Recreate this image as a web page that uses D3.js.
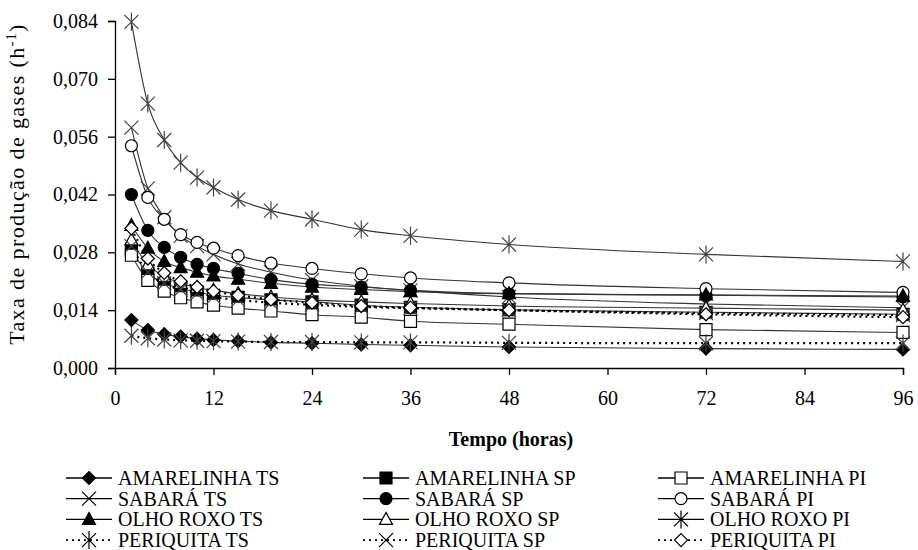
<!DOCTYPE html>
<html>
<head>
<meta charset="utf-8">
<script src="https://cdn.jsdelivr.net/npm/d3@7"></script>
<style>
  body { margin: 0; background: #fff; }
  svg text { font-family: "Times New Roman", "Liberation Serif", Times, serif; fill: #000; }
</style>
</head>
<body>
<div id="chart"></div>
<script>
// dados
const tempos = [2, 4, 6, 8, 10, 12, 15, 19, 24, 30, 36, 48, 72, 96];
const yTicks = [0, 0.014, 0.028, 0.042, 0.056, 0.070, 0.084];
const xTicks = [0, 12, 24, 36, 48, 60, 72, 84, 96];

const amarelinhaTS = [0.0116, 0.0092, 0.0082, 0.0076, 0.0071, 0.0068, 0.0065, 0.0062, 0.0060, 0.0057, 0.0055, 0.0051, 0.0047, 0.0045];
const amarelinhaSP = [0.0285, 0.0230, 0.0205, 0.0193, 0.0184, 0.0176, 0.0171, 0.0165, 0.0160, 0.0152, 0.0147, 0.0141, 0.0135, 0.0130];
const amarelinhaPI = [0.0273, 0.0212, 0.0186, 0.0170, 0.0160, 0.0152, 0.0145, 0.0138, 0.0129, 0.0123, 0.0113, 0.0106, 0.0093, 0.0086];
const sabaraTS = [0.0582, 0.0435, 0.0365, 0.0320, 0.0295, 0.0275, 0.0252, 0.0232, 0.0213, 0.0198, 0.0188, 0.0172, 0.0155, 0.0146];
const sabaraSP = [0.0420, 0.0333, 0.0292, 0.0268, 0.0251, 0.0241, 0.0229, 0.0214, 0.0203, 0.0196, 0.0188, 0.0180, 0.0176, 0.0172];
const sabaraPI = [0.0538, 0.0413, 0.0360, 0.0323, 0.0304, 0.0290, 0.0272, 0.0254, 0.0241, 0.0228, 0.0218, 0.0206, 0.0192, 0.0183];
const olhoRoxoTS = [0.0345, 0.0290, 0.0258, 0.0243, 0.0232, 0.0223, 0.0215, 0.0205, 0.0196, 0.0190, 0.0185, 0.0180, 0.0177, 0.0174];
const olhoRoxoSP = [0.0310, 0.0250, 0.0222, 0.0205, 0.0195, 0.0188, 0.0180, 0.0172, 0.0165, 0.0160, 0.0156, 0.0150, 0.0145, 0.0140];
const olhoRoxoPI = [0.0838, 0.0640, 0.0552, 0.0497, 0.0461, 0.0437, 0.0408, 0.0381, 0.0360, 0.0335, 0.0320, 0.0299, 0.0275, 0.0258];
const periquitaTS = [0.0078, 0.0072, 0.0069, 0.0067, 0.0066, 0.0065, 0.0064, 0.0063, 0.0063, 0.0062, 0.0062, 0.0061, 0.0060, 0.0060];
const periquitaSP = [0.0295, 0.0232, 0.0205, 0.0190, 0.0180, 0.0172, 0.0165, 0.0158, 0.0153, 0.0148, 0.0145, 0.0140, 0.0133, 0.0128];
const periquitaPI = [0.0338, 0.0265, 0.0230, 0.0210, 0.0196, 0.0186, 0.0176, 0.0166, 0.0158, 0.0150, 0.0146, 0.0140, 0.0130, 0.0123];

const series = [
  { name: "AMARELINHA TS", values: amarelinhaTS, marker: "diamond", fill: "#000", dotted: false },
  { name: "AMARELINHA SP", values: amarelinhaSP, marker: "square", fill: "#000", dotted: false },
  { name: "AMARELINHA PI", values: amarelinhaPI, marker: "square", fill: "#fff", dotted: false },
  { name: "SABARÁ TS", values: sabaraTS, marker: "x", fill: "none", dotted: false },
  { name: "SABARÁ SP", values: sabaraSP, marker: "circle", fill: "#000", dotted: false },
  { name: "SABARÁ PI", values: sabaraPI, marker: "circle", fill: "#fff", dotted: false },
  { name: "OLHO ROXO TS", values: olhoRoxoTS, marker: "triangle", fill: "#000", dotted: false },
  { name: "OLHO ROXO SP", values: olhoRoxoSP, marker: "triangle", fill: "#fff", dotted: false },
  { name: "OLHO ROXO PI", values: olhoRoxoPI, marker: "asterisk", fill: "none", dotted: false },
  { name: "PERIQUITA TS", values: periquitaTS, marker: "asterisk", fill: "none", dotted: true },
  { name: "PERIQUITA SP", values: periquitaSP, marker: "x", fill: "none", dotted: true },
  { name: "PERIQUITA PI", values: periquitaPI, marker: "diamond", fill: "#fff", dotted: true }
];

const W = 918, H = 550;
const fonte = '"Times New Roman", "Liberation Serif", Times, serif';

const svg = d3.select("#chart").append("svg")
  .attr("width", W).attr("height", H);

const x = d3.scaleLinear().domain([0, 96]).range([115, 903]);
const y = d3.scaleLinear().domain([0, 0.084]).range([368, 21]);

// caminhos dos marcadores
function markerPath(type) {
  switch (type) {
    case "diamond": return "M0,-6.5L6.5,0L0,6.5L-6.5,0Z";
    case "square": return "M-6,-6H6V6H-6Z";
    case "circle": return "M6,0A6,6 0 1,1 -6,0A6,6 0 1,1 6,0Z";
    case "triangle": return "M0,-7L6.5,5L-6.5,5Z";
    case "x": return "M-7,-7L7,7M-7,7L7,-7";
    case "asterisk": return "M-7,-7L7,7M-7,7L7,-7M0,-9V9";
  }
}

// eixos
const yAxis = svg.append("g")
  .attr("transform", "translate(115,0)")
  .call(d3.axisLeft(y).tickValues(yTicks).tickSize(7).tickPadding(10)
    .tickFormat(d => d3.format(".3f")(d).replace(".", ",")));
const xAxis = svg.append("g")
  .attr("transform", "translate(0,368)")
  .call(d3.axisBottom(x).tickValues(xTicks).tickSize(7).tickPadding(16));

[yAxis, xAxis].forEach(a => {
  a.attr("font-family", fonte).attr("font-size", 20);
  a.select(".domain").attr("stroke", "#000").attr("stroke-width", 1.3);
  a.selectAll(".tick line").attr("stroke", "#000").attr("stroke-width", 1.3);
});

// títulos
svg.append("text")
  .attr("transform", "translate(24,184) rotate(-90)")
  .attr("text-anchor", "middle")
  .attr("font-family", fonte)
  .style("font-size", "22px")
  .style("letter-spacing", "1.4px")
  .html('Taxa de produção de gases (h<tspan dy="-8" style="font-size:14px">-1</tspan><tspan dy="8">)</tspan>');

svg.append("text")
  .attr("x", 511).attr("y", 446)
  .attr("text-anchor", "middle")
  .attr("font-family", fonte)
  .style("font-size", "20px")
  .style("font-weight", "bold")
  .text("Tempo (horas)");

// linhas e pontos
const line = d3.line()
  .x((d, i) => x(tempos[i]))
  .y(d => y(d))
  .curve(d3.curveMonotoneX);

series.forEach(s => {
  svg.append("path")
    .attr("d", line(s.values))
    .attr("fill", "none")
    .attr("stroke", s.dotted ? "#000" : "#333")
    .attr("stroke-width", s.dotted ? 2.2 : 1.1)
    .attr("stroke-dasharray", s.dotted ? "2,4" : null);
});

series.forEach(s => {
  svg.append("g").selectAll("path")
    .data(s.values)
    .enter()
    .append("path")
    .attr("transform", (d, i) => `translate(${x(tempos[i])},${y(d)})`)
    .attr("d", markerPath(s.marker))
    .attr("fill", s.fill)
    .attr("stroke", (s.marker === "x" || s.marker === "asterisk") ? "#444" : "#000")
    .attr("stroke-width", 1.2);
});

// legenda
const legX = [66, 363, 658];
const legY0 = 478, legDy = 20.7;
const legend = svg.selectAll(".legend")
  .data(series)
  .enter()
  .append("g")
  .attr("class", "legend")
  .attr("transform", (d, i) => `translate(${legX[i % 3]},${legY0 + Math.floor(i / 3) * legDy})`);

legend.append("line")
  .attr("x1", 0).attr("x2", 46)
  .attr("stroke", "#000")
  .attr("stroke-width", d => d.dotted ? 1.6 : 1.3)
  .attr("stroke-dasharray", d => d.dotted ? "2,4" : null);

legend.append("path")
  .attr("transform", "translate(23,0)")
  .attr("d", d => markerPath(d.marker))
  .attr("fill", d => d.fill)
  .attr("stroke", "#000")
  .attr("stroke-width", 1.2);

legend.append("text")
  .attr("x", 52).attr("y", 0)
  .attr("dy", "0.35em")
  .attr("font-family", fonte)
  .style("font-size", "20px")
  .text(d => d.name);
</script>
</body>
</html>
